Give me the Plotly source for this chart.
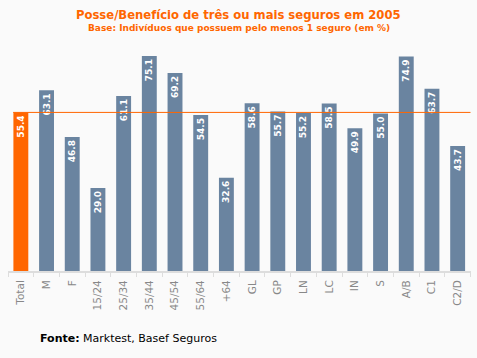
import plotly.graph_objects as go

categories = ["Total", "M", "F", "15/24", "25/34", "35/44", "45/54", "55/64", "+64",
              "GL", "GP", "LN", "LC", "IN", "S", "A/B", "C1", "C2/D"]
values = [55.4, 63.1, 46.8, 29.0, 61.1, 75.1, 69.2, 54.5, 32.6,
          58.6, 55.7, 55.2, 58.5, 49.9, 55.0, 74.9, 63.7, 43.7]

ORANGE = "#FF6600"
BLUE = "#6A84A0"
colors = [ORANGE] + [BLUE] * (len(values) - 1)
total_ref = values[0]

fig = go.Figure(go.Bar(
    x=categories, y=values,
    marker=dict(color=colors, line=dict(width=0)),
    texttemplate="%{y:.1f}", textposition="inside", insidetextanchor="end",
    textangle=-90, constraintext="none",
    textfont=dict(family="DejaVu Sans", size=9, color="white", weight="bold"),
))

fig.add_shape(type="line", xref="x", yref="y", x0=-0.3, x1=len(categories) - 0.5,
              y0=total_ref, y1=total_ref, line=dict(color=ORANGE, width=1), layer="above")

L, R, T, B = 8, 6, 50, 87
W, H = 477, 358
fig.update_layout(
    width=W, height=H,
    margin=dict(l=L, r=R, t=T, b=B, autoexpand=False),
    paper_bgcolor="#FAFAFA", plot_bgcolor="#FAFAFA",
    bargap=0.42, showlegend=False,
    xaxis=dict(tickangle=-90, tickson="boundaries", ticks="outside", ticklen=4,
               tickcolor="#DDDDDD", showline=True, linecolor="#DDDDDD", linewidth=2,
               tickfont=dict(family="DejaVu Sans", size=10.5, color="#888888"),
               ticklabelstandoff=3,
               showgrid=False, automargin=False),
    yaxis=dict(range=[0, 77.2], visible=False, showgrid=False, automargin=False),
)

pw = W - L - R
ph = H - T - B


def px(x):
    return (x - L) / pw


def py(y):
    return (H - B - y) / ph


fig.add_annotation(text="<b>Posse/Benefício de três ou mais seguros em 2005</b>",
                   x=px(W / 2), y=py(15), xref="paper", yref="paper", showarrow=False,
                   xanchor="center", yanchor="middle",
                   font=dict(family="DejaVu Sans", size=11.6, color=ORANGE))
fig.add_annotation(text="<b>Base: Indivíduos que possuem pelo menos 1 seguro (em %)</b>",
                   x=px(W / 2), y=py(28), xref="paper", yref="paper", showarrow=False,
                   xanchor="center", yanchor="middle",
                   font=dict(family="DejaVu Sans", size=9, color=ORANGE))
fig.add_annotation(text="<b>Fonte:</b> Marktest, Basef Seguros",
                   x=px(38), y=py(338), xref="paper", yref="paper", showarrow=False,
                   xanchor="left", yanchor="middle",
                   font=dict(family="DejaVu Sans", size=11, color="black"))

fig.write_html("out.html", config={"displayModeBar": False},
               post_script="document.body.style.margin='0';document.body.style.background='#FAFAFA';")
